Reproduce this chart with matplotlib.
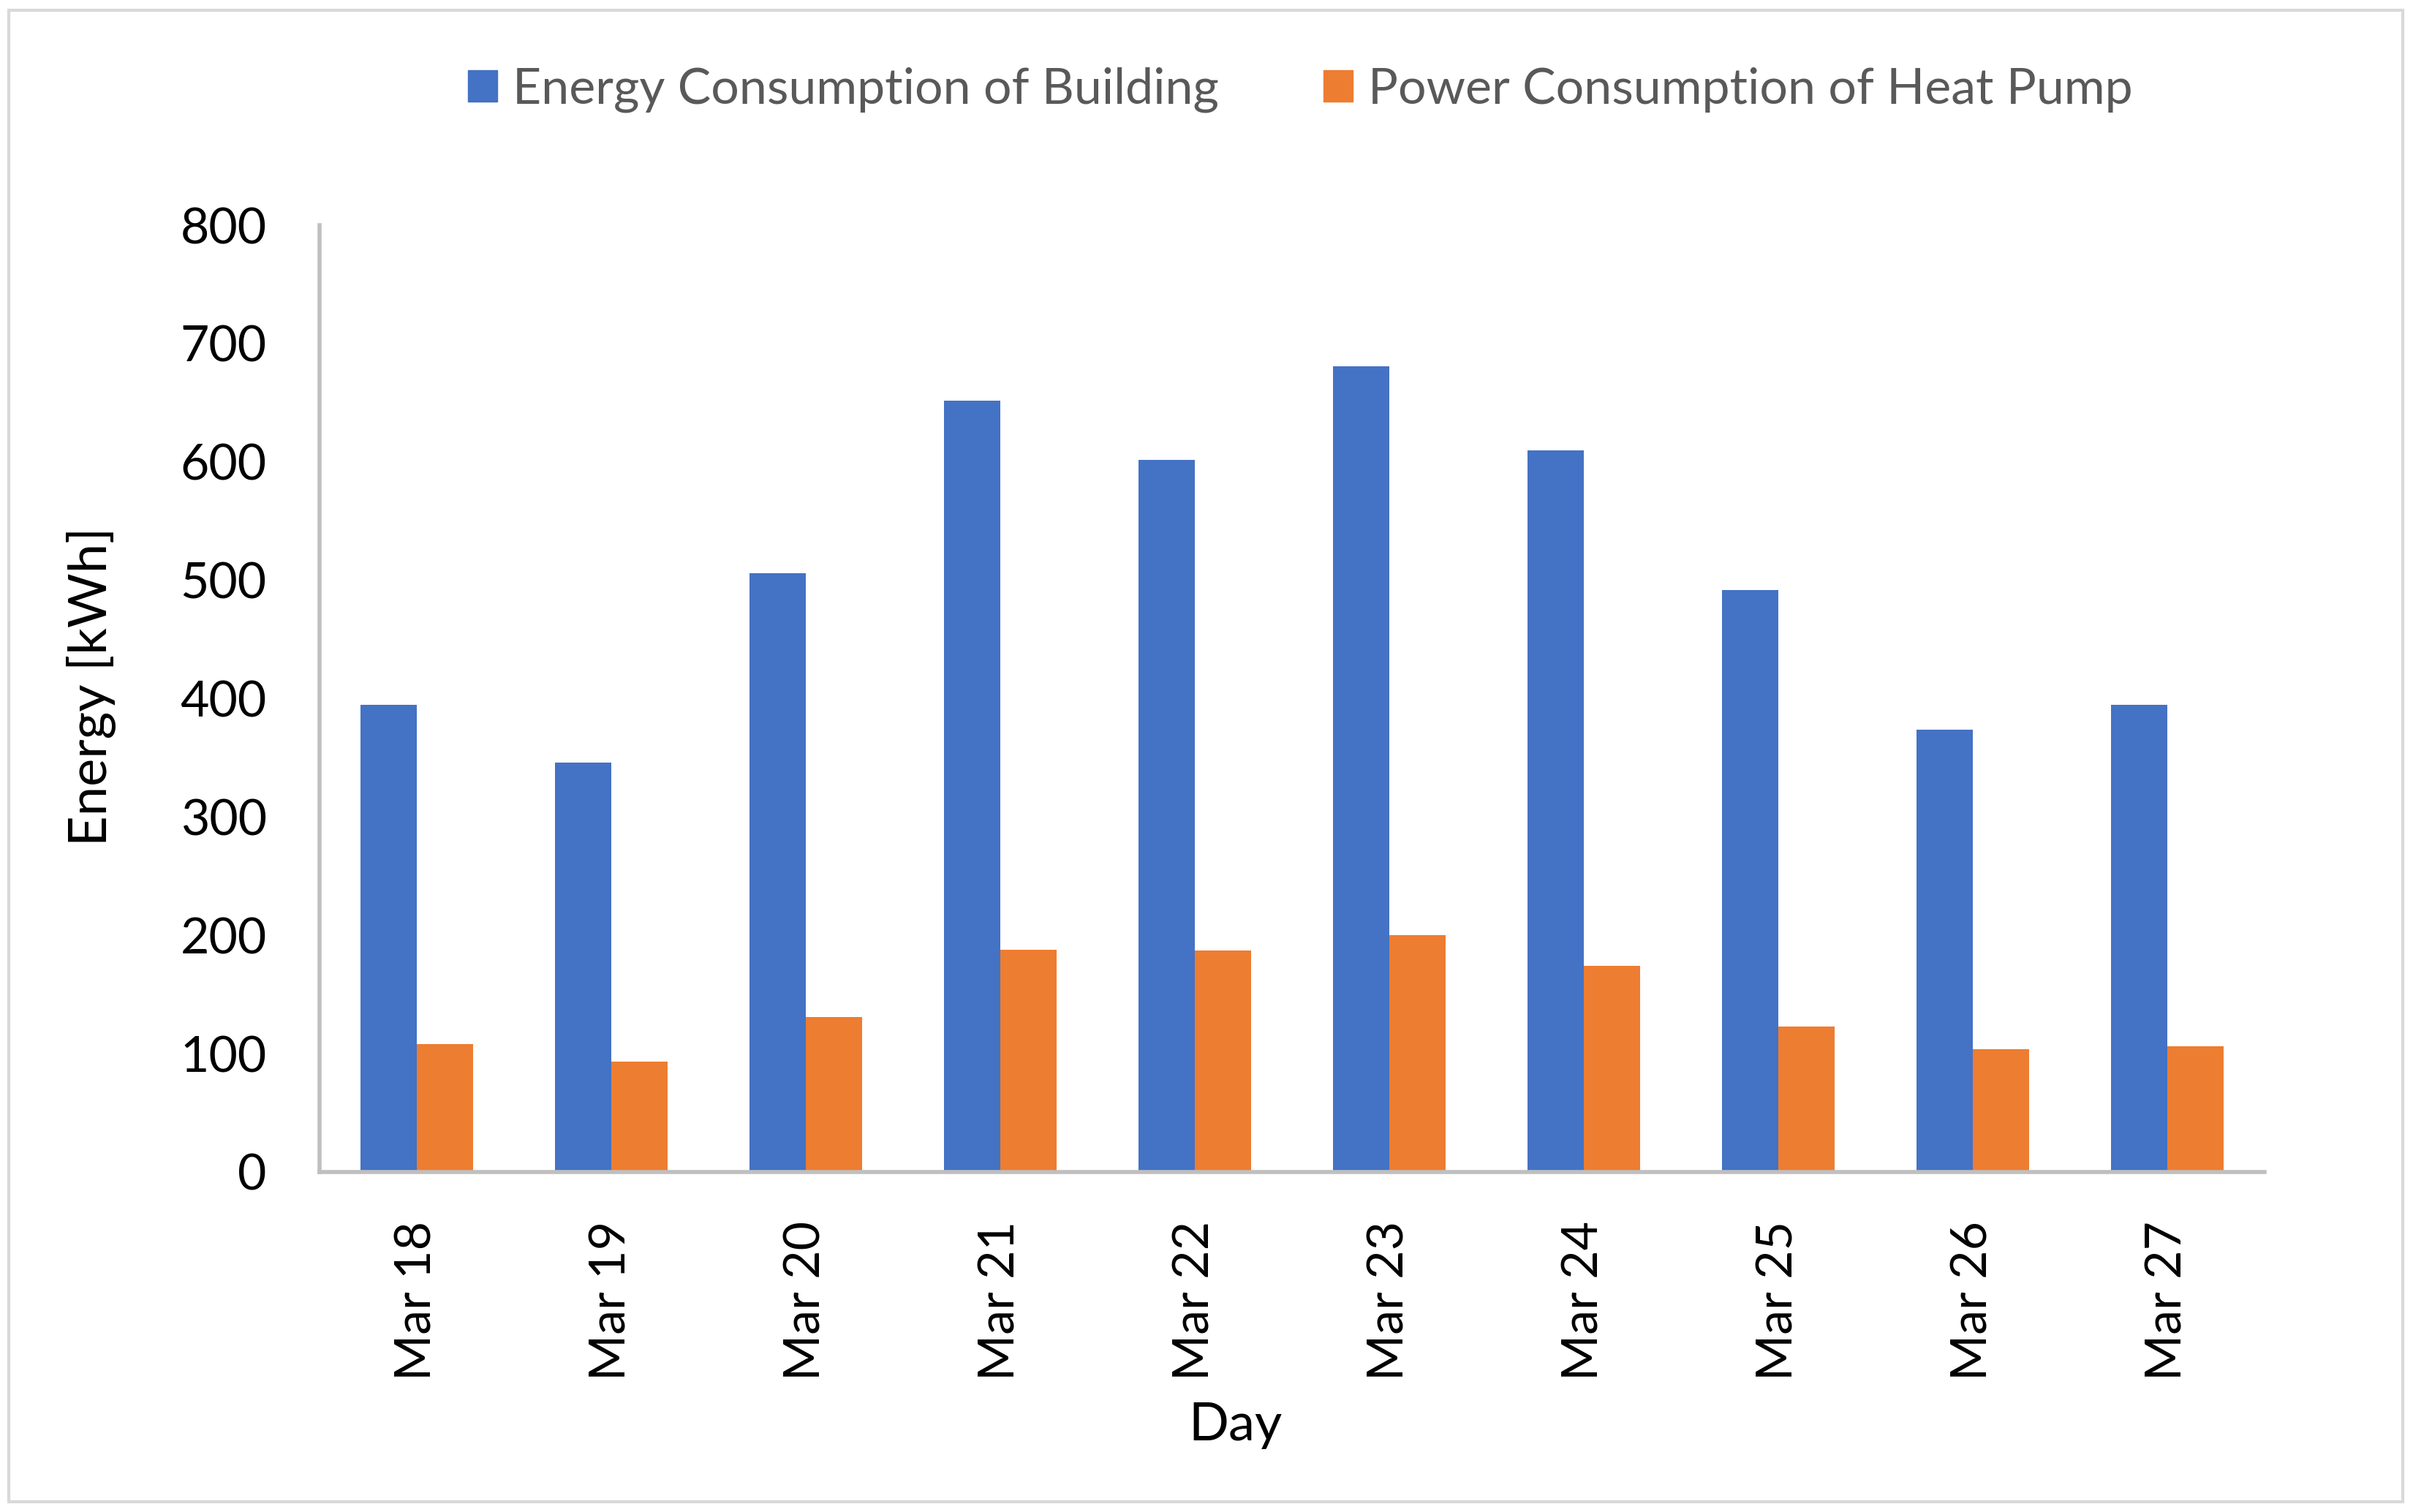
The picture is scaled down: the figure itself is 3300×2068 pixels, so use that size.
import numpy as np
import matplotlib.pyplot as plt
from matplotlib.patches import Rectangle, Patch

days = ['Mar 18', 'Mar 19', 'Mar 20', 'Mar 21', 'Mar 22',
        'Mar 23', 'Mar 24', 'Mar 25', 'Mar 26', 'Mar 27']
building = [395, 346, 506, 652, 602, 681, 610, 492, 374, 395]
heat_pump = [108, 93, 131, 188, 187, 200, 174, 123, 104, 106]
yticks = [0, 100, 200, 300, 400, 500, 600, 700, 800]

W, H = 3300, 2068
plt.rcParams['font.family'] = ['Lato', 'DejaVu Sans']

fig = plt.figure(figsize=(W / 100, H / 100), dpi=100)

# outer chart border
fig.patches.append(Rectangle((12 / W, 14 / H), (3286 - 12) / W, (2054 - 14) / H,
                             transform=fig.transFigure, fill=False,
                             edgecolor='#D9D9D9', linewidth=3))

ax = fig.add_axes([437 / W, (H - 1603) / H, (3097 - 437) / W, (1603 - 308) / H])

x = np.arange(len(days))
bw = 0.29
ax.bar(x - bw / 2, building, bw, color='#4472C4')
ax.bar(x + bw / 2, heat_pump, bw, color='#ED7D31')

ax.set_xlim(-0.5, len(days) - 0.5)
ax.set_ylim(0, 800)
ax.set_yticks(yticks)
ax.set_xticks(x)
ax.set_xticklabels(days, rotation=90)
ax.tick_params(axis='both', length=0, labelsize=49, colors='black')
ax.tick_params(axis='y', pad=52)
ax.tick_params(axis='x', pad=48)

for s in ['top', 'right']:
    ax.spines[s].set_visible(False)
for s in ['left', 'bottom']:
    ax.spines[s].set_color('#BFBFBF')
    ax.spines[s].set_linewidth(4)

fig.text(125 / W, 1 - 939 / H, 'Energy [kWh]', rotation=90, ha='center',
         va='center', fontsize=52, color='black')
fig.text(1690 / W, 1 - 1949 / H, 'Day', ha='center', va='center',
         fontsize=52, color='black')

handles = [Patch(color='#4472C4', label='Energy Consumption of Building'),
           Patch(color='#ED7D31', label='Power Consumption of Heat Pump')]
leg = fig.legend(handles=handles, loc='center', ncol=2, frameon=False,
                 bbox_to_anchor=(1778 / W, 1 - 123 / H), fontsize=49,
                 handlelength=0.6, handleheight=0.6, handletextpad=0.3,
                 columnspacing=2.1, borderpad=0)
for t in leg.get_texts():
    t.set_color('#595959')

fig.savefig('out.png', dpi=100)
